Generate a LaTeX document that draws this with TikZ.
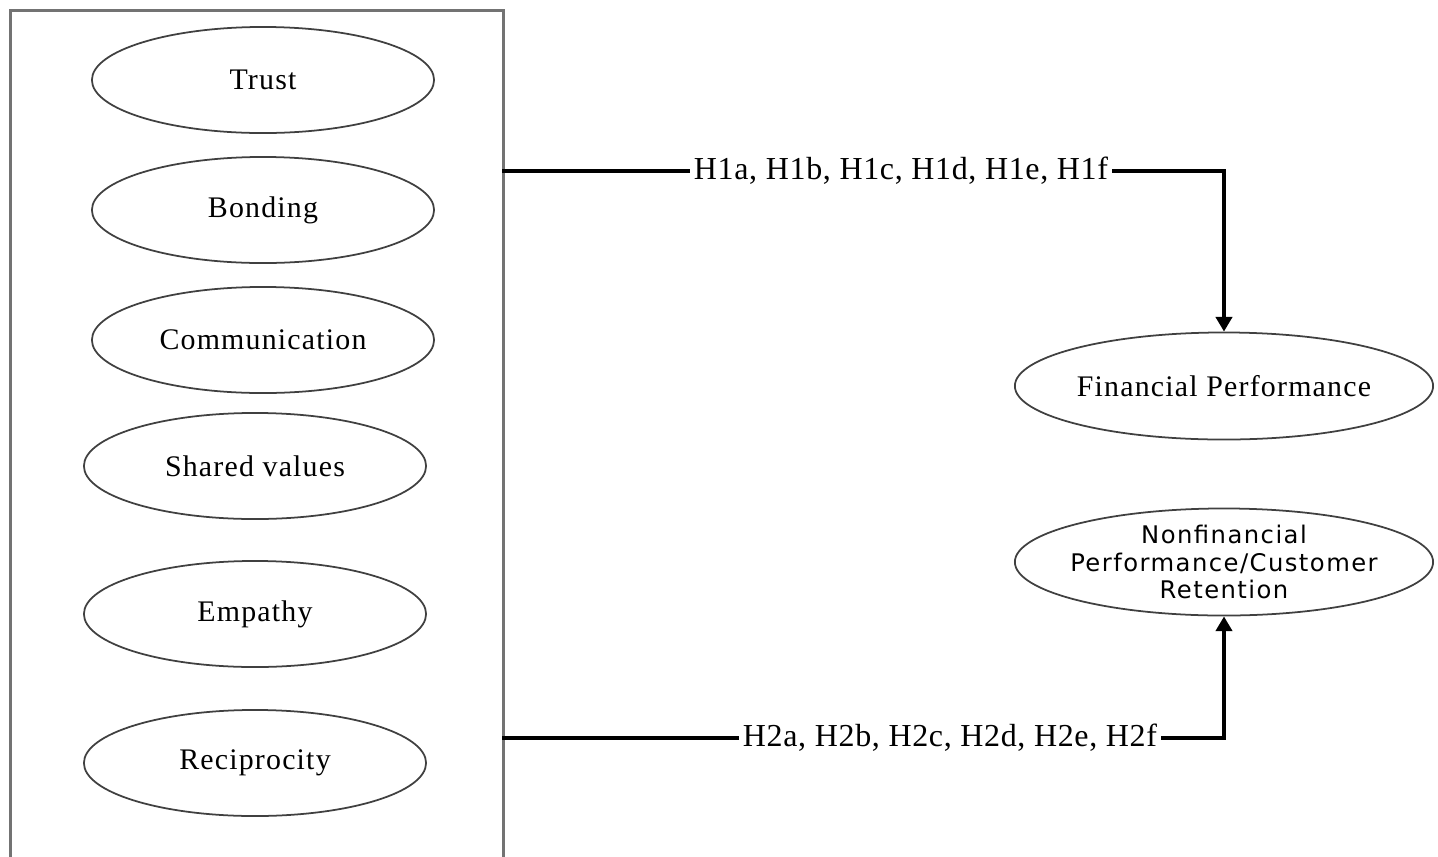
\documentclass[tikz,border=0pt]{standalone}
\usepackage{fontspec}
\setmainfont{Liberation Serif}
\newfontfamily\vsans[LetterSpace=6]{DejaVu Sans}
\usetikzlibrary{shapes.geometric,arrows.meta}
\begin{document}
\begin{tikzpicture}[x=0.01cm,y=-0.01cm,
  factor/.style={ellipse,draw=black!75,line width=0.5pt,minimum width=3.42cm,minimum height=1.06cm,inner sep=0pt,font=\fontsize{8.5}{10}\selectfont\addfontfeature{LetterSpace=4}},
  outcome/.style={ellipse,draw=black!75,line width=0.5pt,minimum width=4.18cm,minimum height=1.07cm,inner xsep=-0.12cm,inner ysep=-0.06cm,align=center},
  link/.style={line width=1.1pt,draw=black},
  hyp/.style={fill=white,inner sep=1pt,font=\fontsize{9.1}{11}\selectfont\addfontfeature{LetterSpace=2}}]
\useasboundingbox (0,0) rectangle (1438,857);
\begin{scope}
\clip (0,0) rectangle (1438,857);
\node[draw=black!55,line width=0.9pt,minimum width=4.93cm,minimum height=8.8cm,inner sep=0pt,anchor=north west] (panel) at (9,9) {};
\end{scope}
\node[factor] (trust) at (263,80) {Trust};
\node[factor] (bond) at (263,210) {Bonding};
\node[factor] (comm) at (263,340) {Communication};
\node[factor] (shared) at (255,466) {Shared values};
\node[factor] (emp) at (255,614) {Empathy};
\node[factor] (recip) at (255,763) {Reciprocity};
\node[outcome,font=\fontsize{8.5}{10}\selectfont\addfontfeature{LetterSpace=4}] (fin) at (1224,386) {Financial Performance};
\node[outcome,font=\vsans\fontsize{6.9}{7.8}\selectfont] (nonfin) at (1224,562) {Nonfinancial\\Performance/Customer\\Retention};
\coordinate (s1) at (502,171);
\coordinate (s2) at (502,738);
\coordinate (c1) at (1224,171);
\coordinate (c2) at (1224,738);
\draw[link,-{Triangle[length=4.2pt,width=4.6pt]}] (s1) -- (c1) -- (fin.north);
\draw[link,-{Triangle[length=4.2pt,width=4.6pt]}] (s2) -- (c2) -- (nonfin.south);
\node[hyp] (h1) at (901,171) {H1a, H1b, H1c, H1d, H1e, H1f};
\node[hyp] (h2) at (950,738) {H2a, H2b, H2c, H2d, H2e, H2f};
\end{tikzpicture}
\end{document}
